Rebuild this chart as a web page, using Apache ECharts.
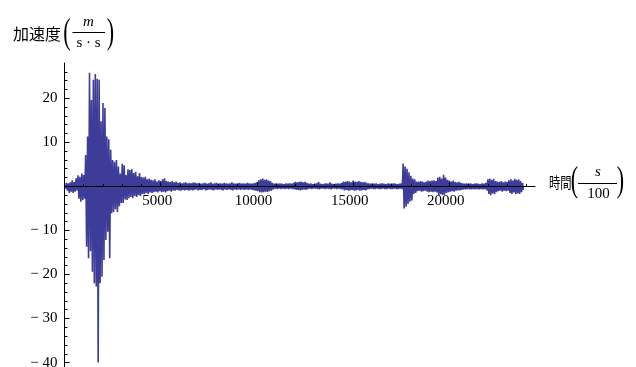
<!DOCTYPE html>
<html><head><meta charset="utf-8">
<script src="https://cdn.jsdelivr.net/npm/echarts@6/dist/echarts.min.js"></script>
<style>html,body{margin:0;padding:0;background:#fff}#c{width:636px;height:367px}</style>
</head><body><div id="c"></div>
<script>
// sample step (in 1/100 s) between successive envelope readings
const STEP = 100;
// positive peaks, one per STEP
const upper = [
0.3,0.8,0.7,0.9,1.4,1.0,1.8,2.5,2.2,2.9,2.6,
7.1,11.3,25.8,19.6,24.2,25.5,24.4,24.2,14.8,18.9,
17.8,11.3,10.7,8.3,6.0,5.6,6.0,4.5,2.9,5.1,
4.8,2.6,3.9,3.7,3.9,3.0,3.3,2.3,3.0,2.1,
2.0,2.2,1.6,1.8,1.5,1.4,1.6,1.1,1.4,1.2,
1.6,1.8,1.2,1.1,1.0,1.2,0.9,1.1,0.8,0.9,
0.7,0.8,0.9,0.7,0.8,0.7,0.9,0.8,0.7,0.8,
0.6,0.7,0.8,0.6,0.7,0.9,0.6,0.7,0.8,0.6,
0.7,0.6,0.8,0.7,0.6,0.7,0.9,0.7,0.6,0.7,
0.8,0.6,0.7,0.6,0.8,0.7,0.6,0.7,0.8,0.9,
1.4,1.6,1.8,1.5,1.6,1.3,1.2,0.8,0.6,0.7,
0.6,0.7,0.6,0.5,0.7,0.6,0.7,0.6,0.8,1.0,
0.9,1.0,1.1,0.9,1.0,0.8,0.6,0.7,0.5,0.6,
0.7,1.0,0.6,0.5,0.6,0.7,0.6,0.9,0.6,0.5,
0.6,0.7,0.6,0.8,1.1,1.0,1.2,1.1,0.9,1.3,
1.1,1.0,1.2,1.0,0.9,1.0,0.8,0.7,0.6,0.7,
0.6,0.7,0.5,0.6,0.7,0.6,0.5,0.7,0.6,0.6,
0.7,0.6,0.5,0.6,0.7,
5.2,4.5,4.0,3.2,2.4,1.8,1.6,
1.1,1.0,1.2,1.1,0.9,1.1,1.3,1.2,
1.3,1.4,1.2,2.0,2.2,1.8,2.6,2.0,1.5,1.3,
1.1,1.3,1.0,0.9,1.0,0.8,0.7,0.6,0.7,0.6,
0.7,0.5,0.6,0.7,0.6,0.5,0.7,0.6,0.8,1.6,
1.8,1.5,1.7,1.2,1.1,1.0,1.2,0.9,1.1,1.0,
1.4,1.6,1.3,1.7,1.5,1.6,1.2,0.8
];
// negative peaks, half a STEP after each positive peak
const lower = [
-0.5,-1.0,-1.5,-1.2,-1.5,-1.2,-0.9,-2.8,-3.5,-3.1,-2.8,
-13.7,-16.3,-14.7,-19.4,-22.0,-22.7,-40.0,-22.0,-20.5,-16.7,
-12.2,-10.3,-16.3,-6.1,-5.8,-5.2,-5.8,-4.5,-3.8,-3.8,
-3.0,-3.1,-2.7,-2.4,-2.7,-2.2,-2.4,-2.0,-2.2,-1.7,
-1.8,-1.5,-1.7,-1.4,-1.5,-1.3,-1.2,-1.4,-1.1,-1.3,
-1.2,-1.4,-1.1,-1.0,-1.2,-0.9,-1.0,-0.8,-0.9,-1.0,
-0.8,-0.9,-0.8,-1.0,-0.8,-0.9,-0.8,-0.7,-0.9,-0.8,
-0.8,-0.7,-0.9,-0.8,-0.7,-0.8,-0.9,-0.7,-0.8,-0.7,
-0.8,-0.9,-0.7,-0.8,-0.7,-0.8,-0.9,-0.7,-0.8,-0.7,
-0.8,-0.7,-0.8,-0.7,-0.8,-0.7,-0.8,-0.9,-1.0,-1.1,
-1.3,-1.4,-1.3,-1.2,-1.3,-1.1,-1.0,-0.7,-0.5,-0.6,
-0.5,-0.6,-0.5,-0.6,-0.5,-0.6,-0.5,-0.6,-0.7,-0.8,
-0.8,-0.9,-0.8,-0.7,-0.8,-0.6,-0.5,-0.6,-0.5,-0.5,
-0.6,-0.7,-0.5,-0.5,-0.6,-0.5,-0.6,-0.7,-0.5,-0.5,
-0.6,-0.5,-0.6,-0.7,-0.9,-0.8,-1.0,-0.9,-0.8,-1.0,
-0.9,-0.8,-1.0,-0.9,-0.8,-0.9,-0.7,-0.6,-0.5,-0.6,
-0.6,-0.5,-0.6,-0.6,-0.5,-0.6,-0.6,-0.5,-0.6,-0.6,
-0.5,-0.6,-0.6,-0.5,-0.6,
-5.0,-4.6,-4.0,-3.5,-3.2,-1.7,-1.5,
-1.1,-1.0,-1.2,-1.1,-1.0,-1.2,-1.3,-1.2,
-1.3,-1.2,-1.4,-2.0,-1.8,-2.0,-1.9,-1.5,-1.3,-1.2,
-1.1,-1.2,-1.0,-0.9,-0.9,-0.8,-0.7,-0.7,-0.6,-0.7,
-0.7,-0.6,-0.7,-0.6,-0.7,-0.6,-0.7,-0.6,-0.9,-1.7,
-2.0,-1.6,-1.8,-1.3,-1.1,-1.0,-1.2,-1.0,-1.1,-1.0,
-1.5,-1.7,-1.4,-1.8,-1.6,-1.7,-1.3,-0.8
];
// axis tick values
const xLabelTicks = [5000, 10000, 15000, 20000];
const xMajorTicks = [0, 5000, 10000, 15000, 20000];
const xMinorTicks = [1000,2000,3000,4000,6000,7000,8000,9000,11000,12000,13000,14000,16000,17000,18000,19000,21000,22000,23000,24000];
const yLabelTicks = [-40, -30, -20, -10, 10, 20];
const yMajorTicks = [-40, -30, -20, -10, 0, 10, 20];
const yMinorTicks = [-38,-36,-34,-32,-28,-26,-24,-22,-18,-16,-14,-12,-8,-6,-4,-2,2,4,6,8,12,14,16,18,22,24,26];

const X_MIN = 0, X_MAX = 24450, Y_MIN = -41, Y_MAX = 28;

// grid geometry
const GRID_TOP = 63, GRID_BOTTOM = 0, CHART_H = 367;
const plotH = CHART_H - GRID_TOP - GRID_BOTTOM;
// distance from the grid's bottom edge up to the y = 0 line (the x axis crosses there)
const zeroOffset = -(plotH * (0 - Y_MIN) / (Y_MAX - Y_MIN));

const seriesData = [];
for (let i = 0; i < upper.length; i++) {
  seriesData.push([i * STEP, upper[i]]);
  seriesData.push([i * STEP + STEP / 2, lower[i]]);
}

const serif = '"Liberation Serif", "Times New Roman", serif';
const cjk = '"Noto Sans CJK JP", "Noto Sans CJK SC", sans-serif';
const fmtY = v => v < 0 ? '\u2212 ' + Math.abs(v) : String(v);
const fmtX = v => String(v);

const chart = echarts.init(document.getElementById('c'), null, {renderer: 'canvas'});
chart.setOption({
  animation: false,
  backgroundColor: '#fff',
  grid: {left: 64.5, right: 101, top: GRID_TOP, bottom: GRID_BOTTOM, containLabel: false, outerBoundsMode: 'none'},
  xAxis: [{
    type: 'value', min: X_MIN, max: X_MAX, position: 'bottom', offset: zeroOffset, z: 5,
    axisLine: {show: true, onZero: false, lineStyle: {color: '#000', width: 1}},
    axisTick: {show: true, inside: true, length: 4, customValues: xMajorTicks, lineStyle: {color: '#000'}},
    axisLabel: {show: true, customValues: xLabelTicks, formatter: fmtX, margin: 7, padding: [0, 7, 0, 0], color: '#000', fontFamily: serif, fontSize: 15},
    splitLine: {show: false}
  }, {
    type: 'value', min: X_MIN, max: X_MAX, position: 'bottom', offset: zeroOffset, z: 5,
    axisLine: {show: false, onZero: false},
    axisTick: {show: true, inside: true, length: 2.5, customValues: xMinorTicks, lineStyle: {color: '#000'}},
    axisLabel: {show: false},
    splitLine: {show: false}
  }],
  yAxis: [{
    type: 'value', min: Y_MIN, max: Y_MAX, position: 'left', z: 5,
    axisLine: {show: true, onZero: false, lineStyle: {color: '#000', width: 1}},
    axisTick: {show: true, inside: true, length: 5, customValues: yMajorTicks, lineStyle: {color: '#000'}},
    axisLabel: {show: true, customValues: yLabelTicks, formatter: fmtY, margin: 7, color: '#000', fontFamily: serif, fontSize: 15},
    splitLine: {show: false}
  }, {
    type: 'value', min: Y_MIN, max: Y_MAX, position: 'left', z: 5,
    axisLine: {show: false, onZero: false},
    axisTick: {show: true, inside: true, length: 3, customValues: yMinorTicks, lineStyle: {color: '#000'}},
    axisLabel: {show: false},
    splitLine: {show: false}
  }],
  series: [{
    type: 'line', xAxisIndex: 0, yAxisIndex: 0,
    data: seriesData, showSymbol: false, symbol: 'none',
    lineStyle: {color: '#3d3d99', width: 1.6},
    silent: true, z: 1
  }],
  graphic: [
    {type: 'text', x: 13, y: 34, style: {text: '加速度', fontFamily: cjk, fontSize: 16, fill: '#000', verticalAlign: 'middle', align: 'left'}},
    {type: 'text', x: 67, y: 34, scaleY: 1.6, style: {text: '(', fontFamily: serif, fontSize: 22, fill: '#000', verticalAlign: 'middle', align: 'center'}},
    {type: 'text', x: 88.5, y: 22, style: {text: 'm', fontFamily: serif, fontStyle: 'italic', fontSize: 15, fill: '#000', verticalAlign: 'middle', align: 'center'}},
    {type: 'line', shape: {x1: 72.5, y1: 32.5, x2: 105, y2: 32.5}, style: {stroke: '#000', lineWidth: 1}},
    {type: 'text', x: 88.5, y: 43, style: {text: 's · s', fontFamily: serif, fontSize: 15, fill: '#000', verticalAlign: 'middle', align: 'center'}},
    {type: 'text', x: 110.5, y: 34, scaleY: 1.6, style: {text: ')', fontFamily: serif, fontSize: 22, fill: '#000', verticalAlign: 'middle', align: 'center'}},

    {type: 'text', x: 549, y: 182, scaleX: 0.75, style: {text: '時間', fontFamily: cjk, fontSize: 15, fill: '#000', verticalAlign: 'middle', align: 'left'}},
    {type: 'text', x: 574.5, y: 182, scaleY: 1.6, style: {text: '(', fontFamily: serif, fontSize: 22, fill: '#000', verticalAlign: 'middle', align: 'center'}},
    {type: 'text', x: 598, y: 172, style: {text: 's', fontFamily: serif, fontStyle: 'italic', fontSize: 15, fill: '#000', verticalAlign: 'middle', align: 'center'}},
    {type: 'line', shape: {x1: 578, y1: 183.5, x2: 617, y2: 183.5}, style: {stroke: '#000', lineWidth: 1}},
    {type: 'text', x: 598.5, y: 194, style: {text: '100', fontFamily: serif, fontSize: 15, fill: '#000', verticalAlign: 'middle', align: 'center'}},
    {type: 'text', x: 620.5, y: 182, scaleY: 1.6, style: {text: ')', fontFamily: serif, fontSize: 22, fill: '#000', verticalAlign: 'middle', align: 'center'}}
  ]
});
</script>
</body></html>
